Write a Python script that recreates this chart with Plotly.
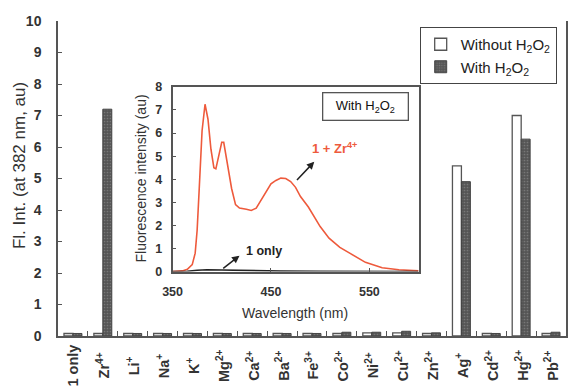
import plotly.graph_objects as go

# ---------------- data ----------------
categories = ["1 only", "Zr4+", "Li+", "Na+", "K+", "Mg2+", "Ca2+", "Ba2+", "Fe3+",
              "Co2+", "Ni2+", "Cu2+", "Zn2+", "Ag+", "Cd2+", "Hg2+", "Pb2+"]
tick_labels = ["<b>1 only</b>", "<b>Zr<sup>4+</sup></b>", "<b>Li<sup>+</sup></b>", "<b>Na<sup>+</sup></b>",
               "<b>K<sup>+</sup></b>", "<b>Mg<sup>2+</sup></b>", "<b>Ca<sup>2+</sup></b>",
               "<b>Ba<sup>2+</sup></b>", "<b>Fe<sup>3+</sup></b>", "<b>Co<sup>2+</sup></b>",
               "<b>Ni<sup>2+</sup></b>", "<b>Cu<sup>2+</sup></b>", "<b>Zn<sup>2+</sup></b>",
               "<b>Ag<sup>+</sup></b>", "<b>Cd<sup>2+</sup></b>", "<b>Hg<sup>2+</sup></b>",
               "<b>Pb<sup>2+</sup></b>"]
without_h2o2 = [0.08, 0.08, 0.08, 0.08, 0.08, 0.08, 0.08, 0.08, 0.08,
                0.08, 0.10, 0.10, 0.08, 5.40, 0.08, 7.00, 0.08]
with_h2o2 = [0.08, 7.20, 0.08, 0.08, 0.08, 0.08, 0.08, 0.08, 0.08,
             0.12, 0.12, 0.15, 0.10, 4.90, 0.08, 6.25, 0.12]

wavelength = [350, 360, 365, 370, 373, 375, 377, 380, 383, 386, 389, 392, 394, 397, 400, 402,
              405, 410, 414, 418, 425, 430, 435, 440, 445, 450, 455, 460, 465, 470, 475, 480,
              488, 495, 500, 509, 520, 530, 546, 563, 580, 600]
zr_intensity = [0.0, 0.03, 0.1, 0.3, 0.8, 1.8, 3.5, 6.1, 7.25, 6.6, 5.3, 4.5, 4.45, 5.0, 5.6, 5.6,
                4.9, 3.6, 2.9, 2.75, 2.7, 2.65, 2.75, 3.1, 3.5, 3.8, 3.95, 4.05, 4.03, 3.9, 3.65, 3.25,
                2.8, 2.3, 1.95, 1.45, 1.05, 0.8, 0.4, 0.17, 0.08, 0.03]
only_wavelength = [350, 365, 375, 385, 400, 420, 440, 460, 500, 600]
only_intensity = [0.0, 0.01, 0.06, 0.08, 0.07, 0.05, 0.04, 0.02, 0.01, 0.0]

FONT = "Liberation Sans, Arial, sans-serif"
AX = "#555555"
TXT = "#333333"
RED = "#ee5a3c"

fig = go.Figure()
fig.add_trace(go.Bar(x=categories, y=without_h2o2, name="Without H<sub>2</sub>O<sub>2</sub>",
                     marker=dict(color="white", line=dict(color="#555555", width=1.3)),
                     xaxis="x", yaxis="y"))
fig.add_trace(go.Bar(x=categories, y=with_h2o2, name="With H<sub>2</sub>O<sub>2</sub>",
                     marker=dict(color="#5a5a5a", line=dict(color="#444444", width=1),
                                 pattern=dict(shape=".", bgcolor="#555555", fgcolor="#9a9a9a",
                                              size=3, solidity=0.25)),
                     xaxis="x", yaxis="y"))
fig.add_trace(go.Scatter(x=wavelength, y=zr_intensity, mode="lines", line=dict(color=RED, width=1.6),
                         showlegend=False, xaxis="x2", yaxis="y2"))
fig.add_trace(go.Scatter(x=only_wavelength, y=only_intensity, mode="lines",
                         line=dict(color="#222222", width=1.6),
                         showlegend=False, xaxis="x2", yaxis="y2"))

ix0, ix1 = 0.2255, 0.7098
iy0, iy1 = 0.2044, 0.7908

annotations = [
    # main y title
    dict(x=-0.0745, y=0.540, xref="paper", yref="paper", text="Fl. Int. (at 382 nm, au)",
         textangle=-90, showarrow=False, xanchor="center", yanchor="middle",
         font=dict(size=17, color=TXT)),
    # inset titles
    dict(x=0.4667, y=0.0745, xref="paper", yref="paper", text="Wavelength (nm)",
         showarrow=False, xanchor="center", yanchor="middle",
         font=dict(size=14, color=TXT)),
    dict(x=0.1627, y=0.499, xref="paper", yref="paper", text="Fluorescence intensity (au)",
         textangle=-90, showarrow=False, xanchor="center", yanchor="middle",
         font=dict(size=14, color=TXT)),
    # inset box label
    dict(x=0.6049, y=0.729, xref="paper", yref="paper", xanchor="center", yanchor="middle",
         text="With H<sub>2</sub>O<sub>2</sub>", showarrow=False, width=76, height=18,
         font=dict(size=13, color="#111111"), bordercolor="#555555", borderwidth=1.3,
         borderpad=4, bgcolor="white"),
    dict(x=515, y=5.37, xref="x2", yref="y2", text="<b>1</b> + Zr<sup>4+</sup>", showarrow=False,
         font=dict(size=13, color=RED, weight="bold")),
    dict(x=494, y=4.76, xref="x2", yref="y2", ax=475, ay=3.9, axref="x2", ayref="y2",
         text="", showarrow=True, arrowhead=2, arrowsize=1, arrowwidth=1.5, arrowcolor="#222222"),
    dict(x=443, y=0.9, xref="x2", yref="y2", text="<b>1</b> only", showarrow=False,
         font=dict(size=12.5, color="#222222", weight="bold")),
    dict(x=418, y=0.69, xref="x2", yref="y2", ax=400, ay=0.09, axref="x2", ayref="y2",
         text="", showarrow=True, arrowhead=2, arrowsize=1, arrowwidth=1.5, arrowcolor="#222222"),
]
# category labels, rotated and centred below the axis
for cat, lab in zip(categories, tick_labels):
    annotations.append(dict(x=cat, y=-0.094, xref="x", yref="paper", text=lab, textangle=-90,
                            showarrow=False, xanchor="center", yanchor="middle",
                            font=dict(size=14.5, color=TXT)))

fig.update_layout(
    width=568, height=388,
    margin=dict(l=58, r=0, t=21, b=52),
    paper_bgcolor="white", plot_bgcolor="white",
    font=dict(family=FONT, color=TXT),
    barmode="group", bargap=0.4, bargroupgap=0.0,
    xaxis=dict(domain=[0, 1], showticklabels=False,
               showline=True, linecolor=AX, linewidth=1.5, mirror=False,
               ticks="inside", tickson="boundaries", ticklen=5, tickcolor=AX,
               showgrid=False, zeroline=False),
    yaxis=dict(domain=[0, 1], range=[0, 10], dtick=1, showline=True, linecolor=AX, linewidth=1.5,
               mirror=True, ticks="inside", ticklen=4, tickcolor=AX, showgrid=False, zeroline=False,
               ticklabelstandoff=12,
               tickfont=dict(size=14, weight="bold", color=TXT)),
    xaxis2=dict(domain=[ix0, ix1], anchor="y2", range=[350, 600], tickvals=[350, 450, 550],
                showline=True, linecolor=AX, linewidth=1.5, mirror=True,
                ticks="inside", ticklen=4, tickcolor=AX, showgrid=False, zeroline=False,
                ticklabelstandoff=8,
                tickfont=dict(size=12.5, weight="bold", color=TXT)),
    yaxis2=dict(domain=[iy0, iy1], anchor="x2", range=[0, 8], dtick=1,
                showline=True, linecolor=AX, linewidth=1.5, mirror=True,
                ticks="inside", ticklen=4, tickcolor=AX, showgrid=False, zeroline=False,
                ticklabelstandoff=6,
                tickfont=dict(size=12.5, weight="bold", color=TXT)),
    legend=dict(x=0.712, y=0.981, xanchor="left", yanchor="top",
                bordercolor="#444444", borderwidth=1, bgcolor="white",
                font=dict(size=15, color="#222222"), tracegroupgap=0,
                itemwidth=30),
    shapes=[dict(type="rect", xref="paper", yref="paper", x0=ix0, x1=ix1, y0=iy0, y1=iy1,
                 fillcolor="white", line=dict(width=0), layer="below")],
    annotations=annotations,
)

fig.write_html("out.html")
